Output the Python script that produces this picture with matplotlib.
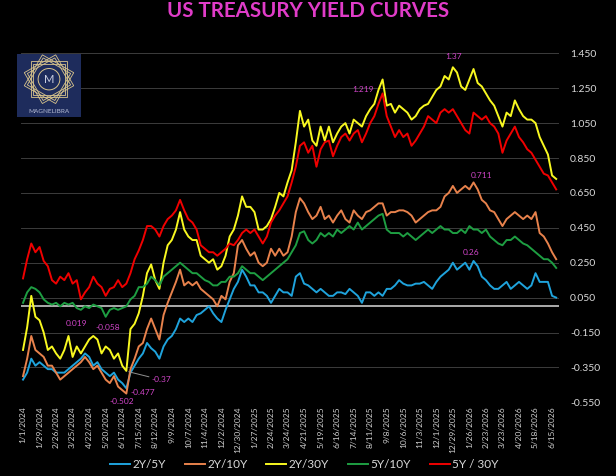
import numpy as np
import pandas as pd
import matplotlib
matplotlib.use("Agg")
import matplotlib.pyplot as plt
from matplotlib.patches import Rectangle, RegularPolygon, Circle

plt.rcParams['font.family'] = ['Lato', 'DejaVu Sans']

# weekly samples (Mondays from 1/1/2024)
dates = pd.date_range('2024-01-01', periods=130, freq='7D')

s_2y5y = [-0.42, -0.38, -0.30, -0.34, -0.32, -0.34, -0.36, -0.36, -0.38, -0.38, -0.38, -0.36, -0.34, -0.32, -0.30,
          -0.27, -0.29, -0.34, -0.32, -0.36, -0.38, -0.40, -0.38, -0.42, -0.44, -0.47, -0.38, -0.34, -0.30, -0.27, -0.21,
          -0.24, -0.26, -0.30, -0.23, -0.19, -0.17, -0.13, -0.07, -0.09, -0.07, -0.09, -0.05, -0.04, -0.02, 0.00,
          -0.04, -0.07, -0.09, -0.02, 0.04, 0.10, 0.14, 0.21, 0.17, 0.12, 0.12, 0.08, 0.08, 0.06, 0.02, 0.06, 0.10, 0.08,
          0.08, 0.06, 0.17, 0.19, 0.13, 0.12, 0.10, 0.08, 0.10, 0.08, 0.06, 0.06, 0.08, 0.08, 0.07, 0.10, 0.08,
          0.06, 0.02, 0.08, 0.08, 0.06, 0.08, 0.06, 0.10, 0.10, 0.12, 0.15, 0.13, 0.12, 0.12, 0.13, 0.13,
          0.14, 0.12, 0.10, 0.14, 0.17, 0.19, 0.21, 0.25, 0.21, 0.23, 0.25, 0.21, 0.26, 0.23, 0.17, 0.15, 0.12,
          0.10, 0.10, 0.12, 0.14, 0.10, 0.12, 0.14, 0.12, 0.10, 0.12, 0.19, 0.14, 0.14, 0.14, 0.06, 0.05]
s_2y10y = [-0.40, -0.30, -0.17, -0.25, -0.27, -0.29, -0.34, -0.34, -0.38, -0.42, -0.40, -0.38, -0.36, -0.34, -0.32,
           -0.29, -0.32, -0.36, -0.34, -0.38, -0.42, -0.44, -0.40, -0.46, -0.48, -0.50, -0.36, -0.30, -0.23, -0.21, -0.13,
           -0.07, -0.13, -0.19, -0.05, 0.02, 0.08, 0.14, 0.21, 0.12, 0.14, 0.12, 0.14, 0.10, 0.08, 0.06,
           0.04, 0.00, 0.06, 0.04, 0.14, 0.19, 0.35, 0.38, 0.33, 0.29, 0.31, 0.25, 0.23, 0.25, 0.33, 0.29, 0.33, 0.29,
           0.31, 0.40, 0.54, 0.62, 0.59, 0.54, 0.50, 0.52, 0.57, 0.50, 0.52, 0.48, 0.52, 0.55, 0.50, 0.48, 0.55,
           0.52, 0.50, 0.54, 0.55, 0.57, 0.59, 0.59, 0.52, 0.54, 0.54, 0.55, 0.55, 0.54, 0.52, 0.48, 0.50,
           0.52, 0.54, 0.55, 0.55, 0.57, 0.63, 0.65, 0.69, 0.65, 0.67, 0.69, 0.67, 0.71, 0.67, 0.61, 0.59, 0.55,
           0.54, 0.50, 0.46, 0.50, 0.52, 0.54, 0.52, 0.50, 0.52, 0.50, 0.54, 0.42, 0.40, 0.36, 0.31, 0.27]
s_2y30y = [-0.25, -0.12, 0.06, -0.06, -0.08, -0.15, -0.25, -0.23, -0.27, -0.30, -0.25, -0.17, -0.29, -0.23, -0.27,
           -0.23, -0.19, -0.17, -0.19, -0.27, -0.23, -0.25, -0.30, -0.27, -0.34, -0.37, -0.13, -0.10, -0.04, 0.06, 0.19,
           0.24, 0.15, 0.10, 0.25, 0.35, 0.38, 0.44, 0.54, 0.44, 0.40, 0.38, 0.38, 0.29, 0.27, 0.25,
           0.27, 0.21, 0.23, 0.29, 0.40, 0.44, 0.52, 0.63, 0.57, 0.57, 0.54, 0.44, 0.44, 0.46, 0.50, 0.57, 0.65, 0.63,
           0.71, 0.78, 0.94, 1.12, 1.03, 1.07, 0.95, 0.92, 1.03, 0.95, 1.03, 0.94, 0.99, 1.03, 1.05, 0.99, 1.07,
           1.05, 1.03, 1.09, 1.13, 1.16, 1.24, 1.30, 1.15, 1.16, 1.11, 1.15, 1.13, 1.11, 1.07, 1.09, 1.13,
           1.15, 1.16, 1.20, 1.24, 1.26, 1.32, 1.30, 1.37, 1.34, 1.26, 1.24, 1.30, 1.36, 1.28, 1.26, 1.22, 1.18,
           1.15, 1.09, 1.03, 1.11, 1.09, 1.18, 1.13, 1.09, 1.07, 1.07, 1.05, 0.97, 0.92, 0.87, 0.75, 0.73]
s_5y10y = [0.02, 0.08, 0.11, 0.10, 0.08, 0.04, 0.02, 0.01, 0.02, 0.00, 0.02, 0.01, 0.02, -0.01, -0.02,
           0.00, -0.01, 0.01, 0.00, -0.01, -0.06, -0.02, -0.01, -0.02, -0.01, 0.00, 0.04, 0.06, 0.11, 0.11, 0.13,
           0.17, 0.15, 0.12, 0.17, 0.19, 0.21, 0.23, 0.25, 0.23, 0.21, 0.19, 0.19, 0.17, 0.15, 0.14,
           0.12, 0.12, 0.14, 0.14, 0.17, 0.17, 0.19, 0.23, 0.21, 0.19, 0.19, 0.17, 0.15, 0.17, 0.19, 0.21, 0.23, 0.25,
           0.27, 0.31, 0.35, 0.42, 0.43, 0.38, 0.36, 0.38, 0.42, 0.40, 0.42, 0.40, 0.44, 0.42, 0.44, 0.46, 0.44,
           0.48, 0.44, 0.46, 0.48, 0.50, 0.52, 0.53, 0.44, 0.42, 0.42, 0.42, 0.40, 0.42, 0.40, 0.38, 0.40,
           0.42, 0.44, 0.42, 0.44, 0.46, 0.44, 0.44, 0.42, 0.42, 0.44, 0.42, 0.46, 0.44, 0.44, 0.42, 0.44, 0.40,
           0.38, 0.36, 0.35, 0.38, 0.38, 0.40, 0.38, 0.36, 0.35, 0.33, 0.31, 0.29, 0.27, 0.27, 0.25, 0.22]
s_5y30y = [0.16, 0.27, 0.36, 0.31, 0.34, 0.26, 0.23, 0.15, 0.13, 0.17, 0.15, 0.19, 0.13, 0.15, 0.04,
           0.08, 0.11, 0.17, 0.13, 0.11, 0.06, 0.10, 0.11, 0.15, 0.11, 0.13, 0.19, 0.27, 0.32, 0.38, 0.46,
           0.46, 0.44, 0.40, 0.46, 0.50, 0.52, 0.55, 0.61, 0.55, 0.50, 0.48, 0.44, 0.35, 0.33, 0.31,
           0.31, 0.29, 0.31, 0.33, 0.36, 0.35, 0.38, 0.42, 0.44, 0.42, 0.44, 0.40, 0.36, 0.40, 0.48, 0.52, 0.55, 0.59,
           0.63, 0.71, 0.80, 0.92, 0.94, 0.88, 0.92, 0.80, 0.90, 0.94, 0.95, 0.86, 0.92, 0.97, 0.99, 0.95, 0.99,
           1.01, 0.94, 0.99, 1.05, 1.09, 1.16, 1.22, 1.09, 1.03, 0.97, 1.01, 0.97, 0.99, 0.92, 0.95, 0.99,
           1.03, 1.09, 1.07, 1.05, 1.11, 1.13, 1.11, 1.13, 1.09, 1.05, 1.01, 0.99, 1.11, 1.09, 1.07, 1.09, 1.05,
           1.03, 0.99, 0.88, 0.95, 0.99, 1.03, 0.97, 0.94, 0.90, 0.88, 0.84, 0.80, 0.76, 0.75, 0.71, 0.67]

series_names = ['2Y/5Y', '2Y/10Y', '2Y/30Y', '5Y/10Y', '5Y / 30Y']
series_vals = [s_2y5y, s_2y10y, s_2y30y, s_5y10y, s_5y30y]
series_colors = ['#1FA3DC', '#E8824C', '#F8F820', '#1E9E42', '#F00000']

x_labels = ['1/1/2024', '1/29/2024', '2/26/2024', '3/25/2024', '4/22/2024', '5/20/2024', '6/17/2024',
            '7/15/2024', '8/12/2024', '9/9/2024', '10/7/2024', '11/4/2024', '12/2/2024', '12/30/2024',
            '1/27/2025', '2/24/2025', '3/24/2025', '4/21/2025', '5/19/2025', '6/16/2025', '7/14/2025',
            '8/11/2025', '9/8/2025', '10/6/2025', '11/3/2025', '12/1/2025', '12/29/2025', '1/26/2026',
            '2/23/2026', '3/23/2026', '4/20/2026', '5/18/2026', '6/15/2026']
y_ticks = [1.45, 1.25, 1.05, 0.85, 0.65, 0.45, 0.25, 0.05, -0.15, -0.35, -0.55]

# value labels: text, date, label height
notes = [('1.37', '2025-12-31', 1.43), ('1.219', '2025-07-30', 1.245), ('0.711', '2026-02-15', 0.752),
         ('0.26', '2026-01-29', 0.311), ('0.019', '2024-03-31', -0.096), ('-0.058', '2024-05-24', -0.119),
         ('-0.477', '2024-07-22', -0.491), ('-0.502', '2024-06-17', -0.543)]

fig = plt.figure(figsize=(6.16, 4.76), dpi=100, facecolor='black')
ax = fig.add_axes([21 / 616, 1 - 402.3 / 476, 538 / 616, 349 / 476])
ax.set_facecolor('black')

for name, vals, col in zip(series_names, series_vals, series_colors):
    ax.plot(dates, vals, color=col, lw=1.4, label=name)

ax.set_ylim(-0.55, 1.45)
ax.set_xlim(pd.Timestamp('2023-12-28 14:00'), pd.Timestamp('2026-06-26 18:00'))
ax.grid(axis='y', color='#3C3C3C', lw=0.7)
ax.set_axisbelow(True)
ax.axhline(0, color='#C8C8C8', lw=1.2, zorder=1.5)
for sp in ax.spines.values():
    sp.set_visible(False)

ax.set_xticks(pd.to_datetime(x_labels, format='%m/%d/%Y'))
ax.set_xticklabels(x_labels, rotation=90, fontsize=6, color='#D0D0D0')
ax.tick_params(axis='x', length=0, pad=3)
ax.yaxis.tick_right()
ax.set_yticks(y_ticks)
ax.set_yticklabels(['%.3f' % v for v in y_ticks], fontsize=7.5, color='#D9D9D9')
ax.tick_params(axis='y', length=0, pad=8)

pink = '#D045C8'
for txt, d, v in notes:
    ax.text(pd.Timestamp(d), v, txt, color=pink, fontsize=6, ha='center', va='center')
ax.annotate('-0.37', xy=(pd.Timestamp('2024-06-28'), -0.375), xytext=(pd.Timestamp('2024-08-06'), -0.422),
            color=pink, fontsize=6, va='center', ha='left',
            arrowprops=dict(arrowstyle='-', color='#909090', lw=0.7, shrinkA=0, shrinkB=0))

fig.text(0.5, 1 - 11 / 476, 'US TREASURY YIELD CURVES', ha='center', va='center',
         color='#E03CC8', fontsize=14.8, fontweight='bold')

# logo block
lax = fig.add_axes([17 / 616, 1 - 117 / 476, 64 / 616, 63 / 476])
lax.set_xlim(0, 1)
lax.set_ylim(0, 1)
lax.axis('off')
lax.add_patch(Rectangle((0, 0), 1, 1, color='#1E2C5C'))
gold = '#D8C48C'
for k in range(3):
    for r in (0.40, 0.35):
        lax.add_patch(RegularPolygon((0.5, 0.6), numVertices=4, radius=r, orientation=k * np.pi / 6 + np.pi / 4,
                                     fill=False, edgecolor=gold, lw=0.6))
lax.add_patch(Circle((0.5, 0.6), 0.17, facecolor='#1E2C5C', edgecolor=gold, lw=0.7))
lax.text(0.5, 0.6, 'M', color='#C9CDE0', fontsize=8, ha='center', va='center')
lax.text(0.5, 0.09, 'MAGNELIBRA', color='#B8BED6', fontsize=4.6, ha='center', va='center')

leg = fig.legend(loc='center', bbox_to_anchor=(0.494, 1 - 465 / 476), ncol=5, frameon=False,
                 fontsize=8.5, handlelength=1.7, handletextpad=0.2, columnspacing=1.6)
for t in leg.get_texts():
    t.set_color('#D9D9D9')

fig.savefig('out.png', dpi=100, facecolor='black')
